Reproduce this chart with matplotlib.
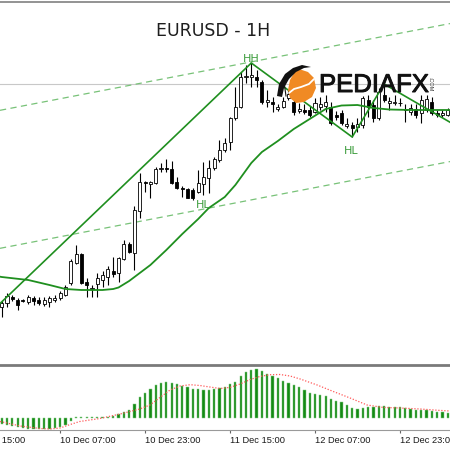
import matplotlib
matplotlib.use("Agg")
import matplotlib.pyplot as plt
from matplotlib.patches import Polygon
from matplotlib import patheffects as pe
import numpy as np

# ---------------- data (EURUSD H1) ----------------
opens = [1.0293, 1.0297, 1.0303, 1.0300, 1.0300, 1.0298, 1.0302, 1.0300, 1.0296, 1.0298,
         1.0300, 1.0302, 1.0305, 1.0317, 1.0337, 1.0346, 1.0318, 1.0311, 1.0316, 1.0320,
         1.0323, 1.0329, 1.0327, 1.0341, 1.0356, 1.0347, 1.0389, 1.0418, 1.0416, 1.0417,
         1.0431, 1.0432, 1.0431, 1.0418, 1.0412, 1.0411, 1.0410, 1.0408, 1.0416, 1.0422,
         1.0432, 1.0440, 1.0450, 1.0458, 1.0482, 1.0493, 1.0523, 1.0523, 1.0523, 1.0518,
         1.0498, 1.0498, 1.0491, 1.0493, 1.0502, 1.0498, 1.0489, 1.0490, 1.0490, 1.0488,
         1.0493, 1.0494, 1.0493, 1.0485, 1.0487, 1.0474, 1.0475, 1.0473, 1.0475, 1.0500,
         1.0495, 1.0482, 1.0505, 1.0497, 1.04975, 1.0497, 1.0490, 1.0488, 1.0491, 1.0487,
         1.0490, 1.0498, 1.0487, 1.0485, 1.0485]
highs = [1.0299, 1.0307, 1.0305, 1.0302, 1.0301, 1.0305, 1.0304, 1.0303, 1.0303, 1.0304,
         1.0305, 1.0309, 1.0315, 1.0341, 1.0355, 1.0347, 1.0322, 1.0315, 1.0327, 1.0329,
         1.0334, 1.0343, 1.0343, 1.0360, 1.0358, 1.0394, 1.0427, 1.0419, 1.0419, 1.0433,
         1.0437, 1.0441, 1.0439, 1.0423, 1.0414, 1.0412, 1.0412, 1.0430, 1.0438, 1.0440,
         1.0443, 1.0460, 1.0462, 1.0483, 1.0513, 1.0528, 1.0535, 1.0537, 1.0530, 1.0520,
         1.0510, 1.0503, 1.0496, 1.0503, 1.0510, 1.0503, 1.0497, 1.0496, 1.0494, 1.0502,
         1.0503, 1.0505, 1.0498, 1.0489, 1.0490, 1.0482, 1.0478, 1.0482, 1.0504, 1.0505,
         1.0500, 1.0512, 1.0516, 1.0503, 1.0505, 1.0502, 1.0496, 1.0496, 1.0496, 1.0505,
         1.0505, 1.0503, 1.0490, 1.0490, 1.0492]
lows = [1.0283, 1.0293, 1.0299, 1.0290, 1.0298, 1.0296, 1.0295, 1.0295, 1.0294, 1.0293,
        1.0298, 1.0300, 1.0304, 1.0315, 1.0336, 1.0316, 1.0303, 1.0303, 1.0303, 1.0313,
        1.0315, 1.0323, 1.0318, 1.0340, 1.0347, 1.0330, 1.0382, 1.0408, 1.0402, 1.0416,
        1.0428, 1.0428, 1.0416, 1.0411, 1.0403, 1.0402, 1.0400, 1.0407, 1.0405, 1.0407,
        1.0430, 1.0438, 1.0448, 1.0450, 1.0480, 1.0492, 1.0517, 1.0513, 1.0513, 1.0496,
        1.0493, 1.0488, 1.0489, 1.0492, 1.0500, 1.0485, 1.0487, 1.0486, 1.0483, 1.0487,
        1.0490, 1.0488, 1.0475, 1.0480, 1.0475, 1.0472, 1.0463, 1.0468, 1.0472, 1.0483,
        1.0478, 1.0480, 1.0498, 1.0490, 1.0495, 1.0494, 1.0478, 1.0485, 1.0482, 1.0477,
        1.0488, 1.0485, 1.0483, 1.0483, 1.0484]
closes = [1.0297, 1.0304, 1.0301, 1.0295, 1.0299, 1.0303, 1.0299, 1.0297, 1.0300, 1.0302,
          1.0302, 1.0307, 1.0313, 1.0339, 1.0346, 1.0317, 1.0315, 1.0312, 1.0322, 1.0325,
          1.0331, 1.0326, 1.0342, 1.0356, 1.0348, 1.0390, 1.0418, 1.0417, 1.0418, 1.0431,
          1.0432, 1.0431, 1.0417, 1.0412, 1.0411, 1.0402, 1.0402, 1.0417, 1.0423, 1.0432,
          1.0441, 1.0450, 1.0457, 1.0482, 1.0493, 1.0523, 1.0524, 1.0525, 1.0520, 1.0498,
          1.0500, 1.0496, 1.0493, 1.0499, 1.0506, 1.0488, 1.0491, 1.0488, 1.0485, 1.0497,
          1.0496, 1.0498, 1.0477, 1.0483, 1.0477, 1.0476, 1.0472, 1.0476, 1.0502, 1.0493,
          1.0482, 1.0508, 1.0500, 1.0499, 1.0498, 1.04975, 1.04905, 1.0492, 1.0485, 1.0500,
          1.0501, 1.0487, 1.0485, 1.0487, 1.0490]

# moving average (read at selected bars)
ma_idx = [-1, 0, 5, 9, 12, 15, 19, 21, 22, 24, 26, 28, 31, 34, 37, 39, 42, 44, 47, 49,
          52, 55, 58, 61, 64, 67, 70, 73, 77, 81, 85]
ma_val = [1.0324, 1.0323, 1.0320, 1.0315, 1.0311, 1.0310, 1.0310, 1.0311, 1.03125, 1.0319,
          1.0327, 1.0335, 1.0350, 1.0366, 1.0381, 1.0392, 1.0403, 1.0415, 1.0437, 1.0448,
          1.0459, 1.0471, 1.0481, 1.0491, 1.04945, 1.0495, 1.0492, 1.04905, 1.0490, 1.0490,
          1.0490]

# zigzag swing points
zz_idx = [-1, 47, 66, 72, 85]
zz_val = [1.0293, 1.0537, 1.0463, 1.0516, 1.0476]

# trend channel (two points per line)
ch_upper = [(0, 1.0490), (84, 1.0576)]
ch_lower = [(0, 1.0352), (84, 1.0438)]
bid_level = 1.0516

# swing labels
swing_labels = ["HH", "HL", "HL"]
swing_idx = [46.9, 38.0, 65.9]
swing_val = [1.0541, 1.03945, 1.04495]

# MACD histogram (points)
macd_hist = [-6, -7, -8, -9, -10, -10.5, -10.5, -10.5, -11, -10.5,
             -10, -9, -7, -2.5, 0.6, 0.6, 0.6, 0.6, 0.6, 0.8,
             1.5, 2.5, 4, 6, 8, 14.5, 21, 25.5, 29.5, 33,
             35.5, 36, 35.5, 34, 32.5, 31, 29.5, 29, 28.5, 28.5,
             29, 30, 31.5, 34, 36.5, 42.5, 46, 48.5, 49.5, 47,
             44.5, 42.5, 40, 37.5, 35.5, 33, 31, 28, 25.5, 24,
             23, 22, 18.6, 17, 15.6, 13, 9.6, 9, 9.6, 10.6,
             10.6, 11.6, 11.6, 11.3, 11.3, 10.6, 9.6, 9, 8, 8,
             8, 7.3, 6.3, 5.6, 5]
sig_idx = [-0.3, 3.5, 7.2, 9.1, 11, 12.9, 14.7, 18.5, 22.3, 26, 27.9, 29.8, 31.7, 33.6,
           35.5, 37.3, 39.2, 41.1, 43, 44.9, 46.8, 48.6, 50.5, 52.4, 54.3, 56.2, 59.4,
           62.4, 65.6, 68.8, 71.8, 75, 78.8, 82.5, 84.4]
sig_val = [-3.5, -8, -10.5, -11, -10, -6.5, -3.5, -0.5, 4, 9, 13, 20.5, 28, 32,
           33.3, 32.5, 31, 29.5, 30.6, 34, 38.5, 41.5, 43.3, 43.5, 42, 39, 33,
           26.6, 20, 13, 10.6, 10, 9, 7.6, 7]

tick_idx = [-5, 11, 27, 43, 59, 75]
tick_labels = ["9 Dec 15:00", "10 Dec 07:00", "10 Dec 23:00", "11 Dec 15:00",
               "12 Dec 07:00", "12 Dec 23:00"]

title = "EURUSD - 1H"

# ---------------- figure ----------------
W = H = 450
fig = plt.figure(figsize=(4.5, 4.5), dpi=100)
fig.patch.set_facecolor("white")

GREEN = "#1f8f1f"
XLIM = (-0.32, 84.42)

ax1 = fig.add_axes([0, 87 / 450, 1, 363 / 450])
ax1.set_xlim(*XLIM)
ax1.set_ylim(1.0237, 1.0600)
ax1.axis("off")

ax2 = fig.add_axes([0, 20 / 450, 1, 64 / 450])
ax2.set_xlim(*XLIM)
ax2.set_ylim(-12, 52)
for s in ["top", "left", "right"]:
    ax2.spines[s].set_visible(False)
ax2.spines["bottom"].set_color("#9a9a9a")
ax2.spines["bottom"].set_linewidth(0.8)
ax2.set_yticks([])
ax2.set_xticks([t for t in tick_idx if t >= XLIM[0]])
ax2.tick_params(axis="x", direction="out", length=2.5, width=0.8, color="#666666",
                labelbottom=False)

# channel and bid line
ax1.axhline(bid_level, color="#c8c8c8", lw=0.8, zorder=1)
for (p1, p2) in [ch_upper, ch_lower]:
    ax1.axline(p1, p2, color="#78c278", lw=0.9, linestyle=(0, (5, 3.5)), zorder=1)

# candles
idx = np.arange(len(opens))
o = np.array(opens); c = np.array(closes); hi = np.array(highs); lo = np.array(lows)
ax1.vlines(idx, lo, hi, color="black", lw=0.8, zorder=3)
up = c >= o
body_bot = np.minimum(o, c)
body_h = np.maximum(np.abs(c - o), 0.00004)
ax1.bar(idx[up], body_h[up], bottom=body_bot[up], width=0.58, color="white",
        edgecolor="black", linewidth=0.6, zorder=4)
ax1.bar(idx[~up], body_h[~up], bottom=body_bot[~up], width=0.58, color="black",
        edgecolor="black", linewidth=0.6, zorder=4)

# MA and zigzag
ax1.plot(ma_idx, ma_val, color=GREEN, lw=1.3, zorder=5, solid_joinstyle="round")
ax1.plot(zz_idx, zz_val, color=GREEN, lw=1.2, zorder=5)

for t, xi, yv in zip(swing_labels, swing_idx, swing_val):
    ax1.text(xi, yv, t, color="#3d9d3d", fontsize=8, ha="center", va="center", zorder=6)

# MACD panel
ax2.bar(idx, macd_hist, width=0.42, color="#148a14", edgecolor="#86cc86",
        linewidth=0.35, zorder=2)
ax2.plot(sig_idx, sig_val, color="#ff5a5a", lw=0.9, linestyle=(0, (1, 1.4)), zorder=3)

for t, lab in zip(tick_idx, tick_labels):
    ax2.text(t + 0.05, -0.164, lab, transform=ax2.get_xaxis_transform(),
             ha="left", va="center", fontsize=6.7, family="Liberation Sans",
             color="#1a1a1a", clip_on=False)

# overlay in pixel coordinates
ax0 = fig.add_axes([0, 0, 1, 1])
ax0.set_xlim(0, W)
ax0.set_ylim(H, 0)
ax0.axis("off")
ax0.patch.set_visible(False)
ax0.set_zorder(10)

ax0.plot([0, W], [1.5, 1.5], color="#808080", lw=1.2)
ax0.plot([0, W], [364.5, 364.5], color="#7a7a7a", lw=2.0)

ax0.text(213, 31, title, fontsize=12.5, ha="center", va="center", color="#1e1e1e")

# logo
orange = Polygon([(299, 69), (308, 72), (314, 78), (316, 88), (312, 97), (304, 102),
                  (296, 103), (290, 98), (288, 90), (290, 80), (294, 73)],
                 closed=True, facecolor="#f08a24", edgecolor="none", zorder=2)
ax0.add_patch(orange)
ax0.plot([289, 294, 301, 309, 314], [93, 89, 87, 84, 79], color="white", lw=1.3,
         solid_capstyle="round", zorder=3)
swoosh = Polygon([(277, 96), (279, 84), (285, 74), (293, 68), (302, 65), (311, 67),
                  (304, 68), (296, 72), (289, 79), (284, 88), (282, 97)],
                 closed=True, facecolor="#111111", edgecolor="none", zorder=3)
ax0.add_patch(swoosh)
ax0.plot([284, 286], [82, 96], color="#111111", lw=0.8, zorder=3)
ax0.text(319, 85, "PEDIAFX", fontsize=18.5, family="Liberation Sans", color="#111111",
         ha="left", va="center", zorder=4,
         path_effects=[pe.withStroke(linewidth=0.7, foreground="#111111")])
ax0.text(430, 84, ".COM", fontsize=4, family="Liberation Sans", color="#333333",
         rotation=270, ha="center", va="center", zorder=4)

fig.savefig("out.png", dpi=100, facecolor="white")
